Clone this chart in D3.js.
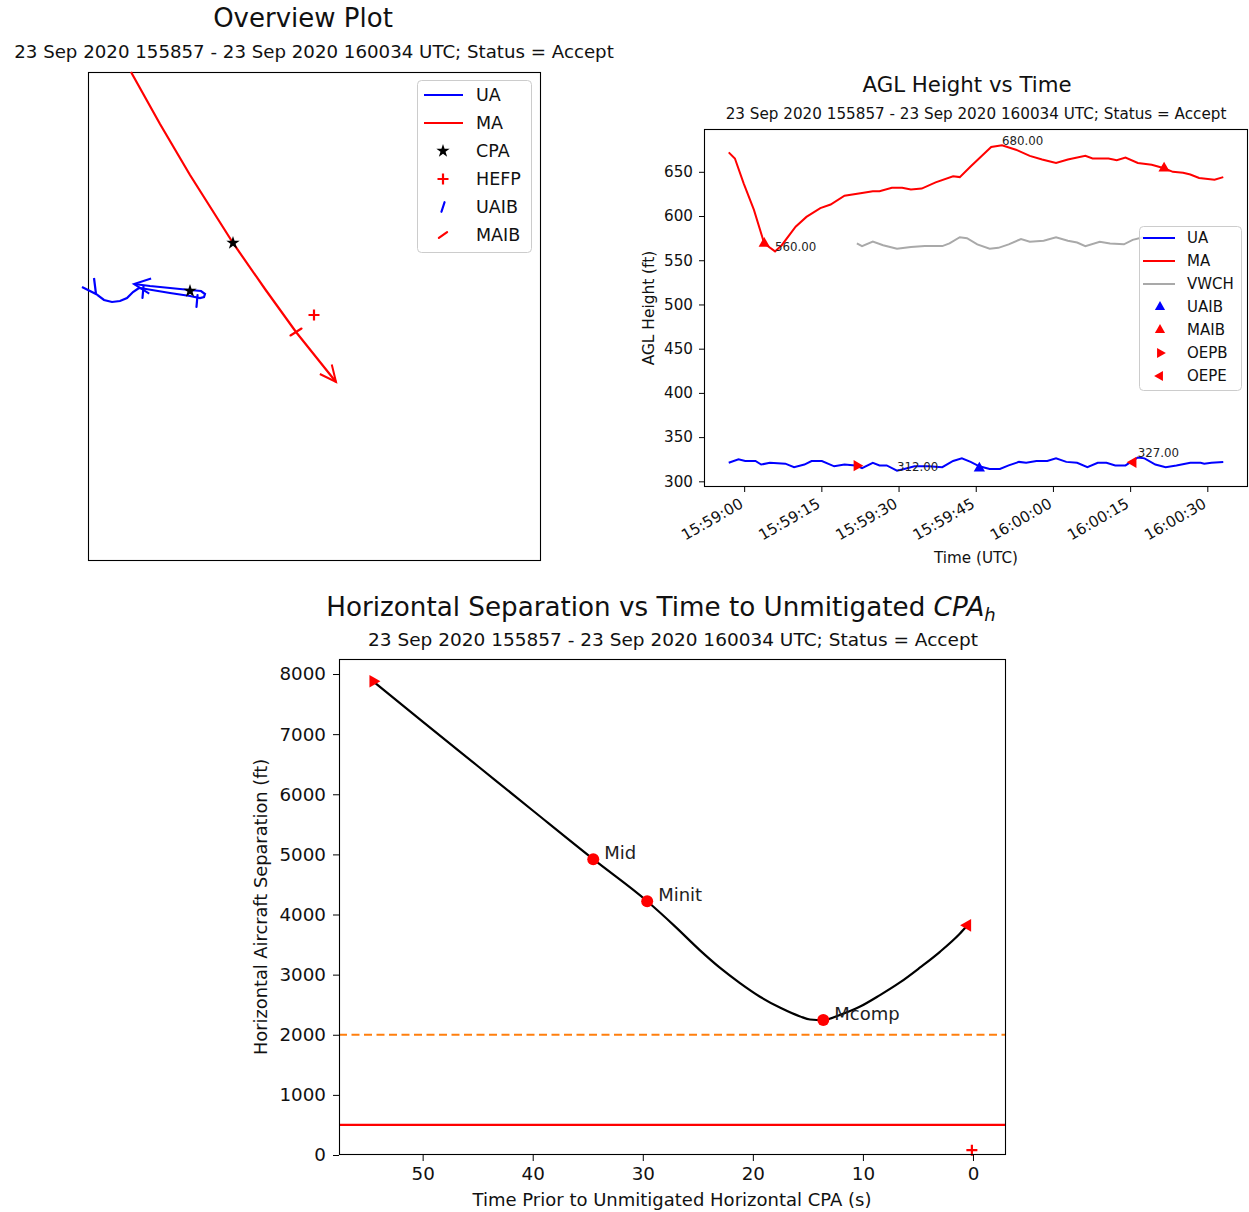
<!DOCTYPE html>
<html>
<head>
<meta charset="utf-8">
<script src="https://cdn.jsdelivr.net/npm/d3@7"></script>
<style>
  body { margin: 0; background: #fff; }
  svg { display: block; font-family: "DejaVu Sans", sans-serif; }
</style>
</head>
<body>
<svg id="fig" width="1249" height="1212"></svg>
<script>
// ---------------- data ----------------
const subtitle = "23 Sep 2020 155857 - 23 Sep 2020 160034 UTC; Status = Accept";

// Overview: local east / north positions (ft)
const uaEast  = [-2060,-1980,-1920,-1940,-1920,-1840,-1760,-1680,-1610,-1550,-1490,-1420,-1180,-980,-880,-840,-830,-870,-980,-1180,-1380,-1540];
const uaNorth = [340,300,270,430,270,210,190,200,230,290,330,320,280,250,230,240,270,300,310,330,350,370];
const maEast  = [-1570,-1280,-980,-550,-230,80,480];
const maNorth = [2490,1970,1460,780,320,-110,-610];
const cpaEast = [-980,-550];
const cpaNorth = [300,780];
const hefpEast = [260];
const hefpNorth = [60];
const uaibEast = [-1450,-910];
const uaibNorth = [290,200];
const maibEast = [80];
const maibNorth = [-110];

// AGL height: seconds after 15:59:00 UTC
const uaTime = [-3.0,-1.1,0.2,2.2,3.3,5.0,8.0,9.7,11.7,13.1,15.1,17.5,19.5,21.6,22.9,25.0,26.3,27.7,29.7,31.1,33.1,35.8,38.5,40.6,42.3,44.0,45.7,47.7,49.7,51.4,53.4,54.8,56.8,58.9,60.6,62.6,64.7,66.7,68.7,70.4,72.1,74.1,76.5,77.8,79.9,81.9,84.0,86.7,88.7,89.4,90.8,93.1];
const uaAgl  = [321,325,323,323,319,321,320,316,319,323,323,317,319,318,315,321,318,318,312,314,317,317,316,323,326,322,317,314,314,318,322,321,323,323,326,322,321,316,321,321,318,318,327,326,319,316,318,321,321,320,321,322];
const maTime = [-3.0,-1.8,-0.1,1.9,3.9,6.0,7.3,10.0,12.1,14.8,16.8,19.5,22.9,25.0,26.3,28.7,30.7,32.4,34.5,37.2,40.6,41.9,44.0,46.0,48.0,50.1,52.8,55.5,57.9,60.6,62.9,66.3,67.7,70.8,72.4,74.1,76.5,79.2,81.6,83.3,85.3,86.7,88.4,91.4,93.1];
const maAgl  = [672,665,637,607,569,560,567,588,599,609,613,623,626,628,628,632,632,630,631,638,645,644,656,667,678,680,675,668,664,660,664,668,665,665,663,666,660,658,654,650,649,647,643,641,644];
const vwchTime = [21.9,22.9,25,27,29.7,32.4,35.1,38.5,39.9,41.9,43.3,45.3,47.7,49.4,51.4,53.8,55.5,58.2,60.6,62.9,64.7,66.3,69.1,71.1,73.8,75.5,77.5];
const vwchAgl  = [569,566,571,567,563,565,566,566,569,576,575,568,563,564,568,574,571,572,576,572,570,566,571,569,568,573,576];
const uaibTime = [45.7];
const uaibAgl = [314.7];
const maibTime = [3.9, 81.6];
const maibAgl = [569, 654];
const oepbTime = [21.9];
const oepbAgl = [317.7];
const oepeTime = [75.6];
const oepeAgl = [321.5];
const extremaTime = [6.0, 50.1, 29.7, 76.5];
const extremaAgl = [560, 680, 312, 327];
const aglTicks = [300,350,400,450,500,550,600,650];
const timeTickSec = [0,15,30,45,60,75,90];

// Horizontal separation vs time to unmitigated CPA (s)
const sepTime = [54.5,50,45,40,34.5,29.6,27.1,24.8,23.0,21.2,19.35,17.5,15.7,14.8,13.6,12.1,10.3,8.45,6.6,4.8,3.0,1.2,0.5];
const sepFt   = [7880,7210,6470,5730,4920,4220,3807,3404,3116,2864,2633,2448,2304,2254,2245,2330,2465,2660,2875,3120,3380,3680,3820];
const keyNames = ["Mid","Minit","Mcomp"];
const keyTime = [34.5,29.6,13.6];
const keySep = [4920,4220,2245];
const sepOepbTime = [54.5], sepOepbFt = [7880];
const sepOepeTime = [0.5], sepOepeFt = [3820];
const sepHefpTime = [0.1], sepHefpFt = [80];
const wellClearFt = 2000;
const nmacFt = 500;
const sepXLimits = [57.6, -3.0];
const sepYLimits = [0, 8250];
const sepXTicks = [50,40,30,20,10,0];
const sepYTicks = [0,1000,2000,3000,4000,5000,6000,7000,8000];

// ---------------- drawing ----------------
const svg = d3.select("#fig");
const BLUE = "#0000ff", RED = "#ff0000", GRAY = "#a9a9a9", ORANGE = "#ff7f0e";
const zip = (a, b) => a.map((v, i) => [v, b[i]]);

function frame(L, T, R, B) {
  svg.append("rect").attr("x", L + 0.5).attr("y", T + 0.5)
    .attr("width", R - L - 1).attr("height", B - T - 1)
    .attr("fill", "none").attr("stroke", "#000").attr("stroke-width", 1.1);
}
function text(x, y, s, size, anchor = "middle") {
  return svg.append("text").attr("x", x).attr("y", y).attr("font-size", size)
    .attr("text-anchor", anchor).attr("fill", "#111").text(s);
}
function sym(type, size, x, y, color, rot = 0) {
  return svg.append("path").attr("d", d3.symbol().type(type).size(size)())
    .attr("transform", `translate(${x},${y}) rotate(${rot})`).attr("fill", color);
}
function plus(x, y, r, color) {
  svg.append("path").attr("d", `M${x - r},${y}H${x + r}M${x},${y - r}V${y + r}`)
    .attr("stroke", color).attr("stroke-width", 2.2).attr("fill", "none");
}
function tick(x, y, len, deg, color) {
  const a = deg * Math.PI / 180, dx = Math.cos(a) * len / 2, dy = -Math.sin(a) * len / 2;
  svg.append("path").attr("d", `M${x - dx},${y - dy}L${x + dx},${y + dy}`)
    .attr("stroke", color).attr("stroke-width", 2.2).attr("stroke-linecap", "round");
}
function legendBox(x, y, w, h) {
  svg.append("rect").attr("x", x + 0.5).attr("y", y + 0.5).attr("width", w).attr("height", h)
    .attr("rx", 4).attr("fill", "#fff").attr("fill-opacity", 0.8)
    .attr("stroke", "#cccccc").attr("stroke-width", 1);
}
function arrowHead(pts, color) {
  const [x1, y1] = pts[pts.length - 2], [x2, y2] = pts[pts.length - 1];
  const a = Math.atan2(y1 - y2, x1 - x2), L = 18, s = 25 * Math.PI / 180;
  svg.append("path")
    .attr("d", `M${x2 + L * Math.cos(a + s)},${y2 + L * Math.sin(a + s)}L${x2},${y2}L${x2 + L * Math.cos(a - s)},${y2 + L * Math.sin(a - s)}`)
    .attr("fill", "none").attr("stroke", color).attr("stroke-width", 2);
}

// ===== Overview plot =====
{
  const L = 88, T = 72, R = 541, B = 561;
  const x = d3.scaleLinear().domain([-2000, 2530]).range([L, R]);
  const y = d3.scaleLinear().domain([-2400, 2490]).range([B, T]);
  text(303, 27, "Overview Plot", 26);
  text(314, 58, subtitle, 18.2);
  frame(L, T, R, B);

  const line = d3.line().x(d => x(d[0])).y(d => y(d[1]));
  const ua = zip(uaEast, uaNorth), ma = zip(maEast, maNorth);
  svg.append("path").attr("d", line(ua)).attr("fill", "none").attr("stroke", BLUE).attr("stroke-width", 2.2);
  svg.append("path").attr("d", line(ma)).attr("fill", "none").attr("stroke", RED).attr("stroke-width", 2.2);
  arrowHead(ua.map(d => [x(d[0]), y(d[1])]), BLUE);
  arrowHead(ma.map(d => [x(d[0]), y(d[1])]), RED);

  uaibEast.forEach((e, i) => tick(x(e), y(uaibNorth[i]), 12, 85, BLUE));
  maibEast.forEach((e, i) => tick(x(e), y(maibNorth[i]), 13, 32, RED));
  hefpEast.forEach((e, i) => plus(x(e), y(hefpNorth[i]), 5.5, RED));
  cpaEast.forEach((e, i) => sym(d3.symbolStar, 55, x(e), y(cpaNorth[i]), "#000"));

  // legend
  legendBox(417, 80, 114, 172);
  const items = ["UA", "MA", "CPA", "HEFP", "UAIB", "MAIB"];
  items.forEach((s, i) => {
    const cy = 95 + i * 28;
    text(476, cy, s, 17.5, "start").attr("dominant-baseline", "central");
    if (s === "UA" || s === "MA")
      svg.append("path").attr("d", `M424,${cy}H463`).attr("stroke", s === "UA" ? BLUE : RED).attr("stroke-width", 2);
    else if (s === "CPA") sym(d3.symbolStar, 55, 443, cy, "#000");
    else if (s === "HEFP") plus(443, cy, 5.5, RED);
    else if (s === "UAIB") tick(443, cy, 10, 72, BLUE);
    else tick(443, cy, 10, 35, RED);
  });
}

// ===== AGL height vs time =====
{
  const L = 704, T = 129, R = 1248, B = 487;
  const t0 = Date.UTC(2020, 8, 23, 15, 59, 0);
  const toDate = s => new Date(t0 + s * 1000);
  const allT = uaTime.concat(maTime), tMin = d3.min(allT), tMax = d3.max(allT);
  const tPad = (tMax - tMin) * 0.05;
  const x = d3.scaleUtc().domain([toDate(tMin - tPad), toDate(tMax + tPad)]).range([L, R]);
  const allV = uaAgl.concat(maAgl), vMin = d3.min(allV), vMax = d3.max(allV);
  const vPad = (vMax - vMin) * 0.05;
  const y = d3.scaleLinear().domain([vMin - vPad, vMax + vPad]).range([B, T]);

  text(967, 92, "AGL Height vs Time", 21.3);
  text(976, 119, subtitle, 15.2);

  const line = d3.line().x(d => x(toDate(d[0]))).y(d => y(d[1]));
  svg.append("path").attr("d", line(zip(vwchTime, vwchAgl))).attr("fill", "none").attr("stroke", GRAY).attr("stroke-width", 2);
  svg.append("path").attr("d", line(zip(maTime, maAgl))).attr("fill", "none").attr("stroke", RED).attr("stroke-width", 2);
  svg.append("path").attr("d", line(zip(uaTime, uaAgl))).attr("fill", "none").attr("stroke", BLUE).attr("stroke-width", 2);

  oepbTime.forEach((t, i) => sym(d3.symbolTriangle, 55, x(toDate(t)), y(oepbAgl[i]), RED, 90));
  oepeTime.forEach((t, i) => sym(d3.symbolTriangle, 55, x(toDate(t)), y(oepeAgl[i]), RED, -90));
  maibTime.forEach((t, i) => sym(d3.symbolTriangle, 55, x(toDate(t)), y(maibAgl[i]), RED));
  uaibTime.forEach((t, i) => sym(d3.symbolTriangle, 55, x(toDate(t)), y(uaibAgl[i]), BLUE));

  extremaTime.forEach((t, i) => {
    text(x(toDate(t)), y(extremaAgl[i]), extremaAgl[i].toFixed(2), 11.8, "start").attr("fill", "#222");
  });

  frame(L, T, R, B);

  const ya = svg.append("g").attr("transform", `translate(${L},0)`)
    .call(d3.axisLeft(y).tickValues(aglTicks).tickSize(5).tickPadding(6));
  ya.select(".domain").remove();
  ya.selectAll("text").attr("font-size", 15.2).attr("font-family", "DejaVu Sans").attr("fill", "#111");

  const xa = svg.append("g").attr("transform", `translate(0,${B})`)
    .call(d3.axisBottom(x).tickValues(timeTickSec.map(toDate)).tickFormat(d3.utcFormat("%H:%M:%S")).tickSize(5));
  xa.select(".domain").remove();
  xa.selectAll("text").attr("font-size", 15.2).attr("font-family", "DejaVu Sans").attr("fill", "#111")
    .attr("y", 0).attr("dy", 0).attr("text-anchor", "end").attr("dominant-baseline", "hanging")
    .attr("transform", "translate(-6,10) rotate(-30)");

  svg.append("text").attr("transform", `translate(654,308) rotate(-90)`).attr("text-anchor", "middle")
    .attr("font-size", 15.4).attr("fill", "#111").text("AGL Height (ft)");
  text(976, 563, "Time (UTC)", 15.2);

  // legend
  legendBox(1139, 226, 102, 164);
  const items = [["UA", "line", BLUE], ["MA", "line", RED], ["VWCH", "line", GRAY],
                 ["UAIB", 0, BLUE], ["MAIB", 0, RED], ["OEPB", 90, RED], ["OEPE", -90, RED]];
  items.forEach(([s, kind, c], i) => {
    const cy = 238 + i * 23;
    text(1187, cy, s, 15, "start").attr("dominant-baseline", "central");
    if (kind === "line")
      svg.append("path").attr("d", `M1143,${cy}H1175`).attr("stroke", c).attr("stroke-width", 2);
    else sym(d3.symbolTriangle, 45, 1160, cy, c, kind);
  });
}

// ===== Horizontal separation vs time to unmitigated CPA =====
{
  const L = 339, T = 659, R = 1006, B = 1155;
  const x = d3.scaleLinear().domain(sepXLimits).range([L, R]);
  const y = d3.scaleLinear().domain(sepYLimits).range([B, T]);

  const title = svg.append("text").attr("x", 661).attr("y", 616).attr("text-anchor", "middle")
    .attr("font-size", 26.2).attr("fill", "#111");
  title.append("tspan").text("Horizontal Separation vs Time to Unmitigated ");
  title.append("tspan").attr("font-style", "italic").text("CPA");
  title.append("tspan").attr("font-style", "italic").attr("font-size", 18).attr("dy", 5).text("h");
  text(673, 646, subtitle, 18.5);

  svg.append("path").attr("d", `M${L},${y(wellClearFt)}H${R}`).attr("stroke", ORANGE)
    .attr("stroke-width", 2).attr("stroke-dasharray", "8,4.5");
  svg.append("path").attr("d", `M${L},${y(nmacFt)}H${R}`).attr("stroke", RED).attr("stroke-width", 2.2);

  const line = d3.line().x(d => x(d[0])).y(d => y(d[1])).curve(d3.curveMonotoneX);
  svg.append("path").attr("d", line(zip(sepTime, sepFt))).attr("fill", "none").attr("stroke", "#000").attr("stroke-width", 2.2);

  sepOepbTime.forEach((t, i) => sym(d3.symbolTriangle, 70, x(t), y(sepOepbFt[i]), RED, 90));
  sepOepeTime.forEach((t, i) => sym(d3.symbolTriangle, 70, x(t), y(sepOepeFt[i]), RED, -90));
  sepHefpTime.forEach((t, i) => plus(x(t), y(sepHefpFt[i]), 5.5, RED));
  keyTime.forEach((t, i) => {
    svg.append("circle").attr("cx", x(t)).attr("cy", y(keySep[i])).attr("r", 6).attr("fill", RED);
    text(x(t) + 11, y(keySep[i]), keyNames[i], 18, "start").attr("fill", "#222");
  });

  frame(L, T, R, B);

  const ya = svg.append("g").attr("transform", `translate(${L},0)`)
    .call(d3.axisLeft(y).tickValues(sepYTicks).tickFormat(d3.format("d")).tickSize(6).tickPadding(7));
  ya.select(".domain").remove();
  ya.selectAll("text").attr("font-size", 18.3).attr("font-family", "DejaVu Sans").attr("fill", "#111");
  const xa = svg.append("g").attr("transform", `translate(0,${B})`)
    .call(d3.axisBottom(x).tickValues(sepXTicks).tickFormat(d3.format("d")).tickSize(6).tickPadding(6));
  xa.select(".domain").remove();
  xa.selectAll("text").attr("font-size", 18.3).attr("font-family", "DejaVu Sans").attr("fill", "#111");

  svg.append("text").attr("transform", `translate(267,907) rotate(-90)`).attr("text-anchor", "middle")
    .attr("font-size", 17.8).attr("fill", "#111").text("Horizontal Aircraft Separation (ft)");
  text(672, 1206, "Time Prior to Unmitigated Horizontal CPA (s)", 18);
}
</script>
</body>
</html>
